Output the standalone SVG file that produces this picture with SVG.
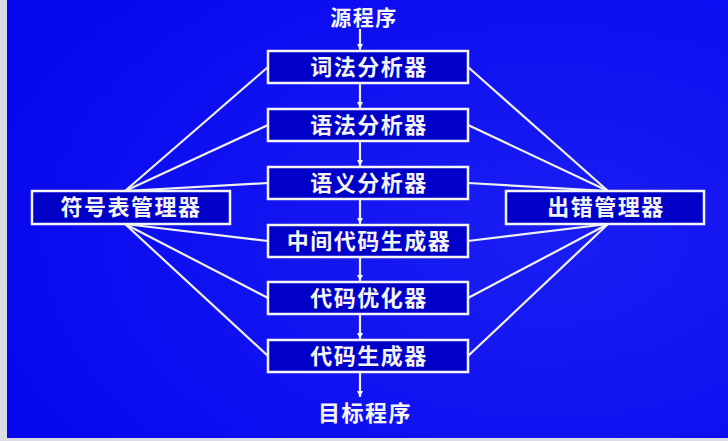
<svg xmlns="http://www.w3.org/2000/svg" width="728" height="441" viewBox="0 0 728 441">
<defs>
<style>
.box{fill:#0000c8;stroke:#f4f4f4;stroke-width:2.5}
.t{font-family:"Noto Sans CJK SC","Noto Sans CJK JP",sans-serif;font-size:22px;font-weight:bold;fill:#f4f4f4;text-anchor:middle;letter-spacing:1.5px}
.ln{stroke:#f0f0f0;stroke-width:2.2;fill:none}
</style>
<radialGradient id="bg" cx="0.75" cy="0.55" r="0.8">
<stop offset="0" stop-color="#1a1ef2"/>
<stop offset="1" stop-color="#0808f0"/>
</radialGradient>
<marker id="ah" viewBox="0 0 10 10" refX="10" refY="5" markerWidth="6" markerHeight="6" orient="auto" markerUnits="userSpaceOnUse">
<path d="M0,0 L10,5 L0,10 Z" fill="#f4f4f4"/>
</marker>
</defs>
<rect x="0" y="0" width="728" height="441" fill="#dcdce4"/>
<rect x="7" y="0" width="721" height="438" fill="url(#bg)"/>
<g id="connectors">
<line class="ln" x1="360" y1="29" x2="360" y2="50" marker-end="url(#ah)"/>
<line class="ln" x1="360" y1="84" x2="360" y2="108" marker-end="url(#ah)"/>
<line class="ln" x1="360" y1="142" x2="360" y2="166" marker-end="url(#ah)"/>
<line class="ln" x1="360" y1="200" x2="360" y2="224" marker-end="url(#ah)"/>
<line class="ln" x1="360" y1="258" x2="360" y2="281" marker-end="url(#ah)"/>
<line class="ln" x1="360" y1="315" x2="360" y2="339" marker-end="url(#ah)"/>
<line class="ln" x1="360" y1="373" x2="360" y2="397" marker-end="url(#ah)"/>
<line class="ln" x1="125" y1="191" x2="268" y2="67"/>
<line class="ln" x1="125" y1="191" x2="268" y2="125"/>
<line class="ln" x1="125" y1="191" x2="268" y2="183"/>
<line class="ln" x1="125" y1="224" x2="268" y2="241"/>
<line class="ln" x1="125" y1="224" x2="268" y2="298"/>
<line class="ln" x1="125" y1="224" x2="268" y2="356"/>
<line class="ln" x1="608" y1="191" x2="468" y2="67"/>
<line class="ln" x1="608" y1="191" x2="468" y2="125"/>
<line class="ln" x1="608" y1="191" x2="468" y2="183"/>
<line class="ln" x1="608" y1="224" x2="468" y2="241"/>
<line class="ln" x1="608" y1="224" x2="468" y2="298"/>
<line class="ln" x1="608" y1="224" x2="468" y2="356"/>
</g>
<g id="src"><text class="t" x="364" y="25" style="font-size:21px">源程序</text></g>
<g id="lex"><rect class="box" x="268" y="51" width="200" height="32"/><text class="t" x="369" y="75">词法分析器</text></g>
<g id="syn"><rect class="box" x="268" y="109" width="200" height="32"/><text class="t" x="369" y="133">语法分析器</text></g>
<g id="sem"><rect class="box" x="268" y="167" width="200" height="32"/><text class="t" x="369" y="191">语义分析器</text></g>
<g id="ir"><rect class="box" x="268" y="225" width="200" height="32"/><text class="t" x="369" y="249">中间代码生成器</text></g>
<g id="opt"><rect class="box" x="268" y="282" width="200" height="32"/><text class="t" x="369" y="306">代码优化器</text></g>
<g id="gen"><rect class="box" x="268" y="340" width="200" height="32"/><text class="t" x="369" y="364">代码生成器</text></g>
<g id="dst"><text class="t" x="365" y="421">目标程序</text></g>
<g id="sym"><rect class="box" x="32" y="191" width="198" height="33"/><text class="t" x="131" y="215">符号表管理器</text></g>
<g id="err"><rect class="box" x="506" y="191" width="198" height="33"/><text class="t" x="606" y="215">出错管理器</text></g>
</svg>
